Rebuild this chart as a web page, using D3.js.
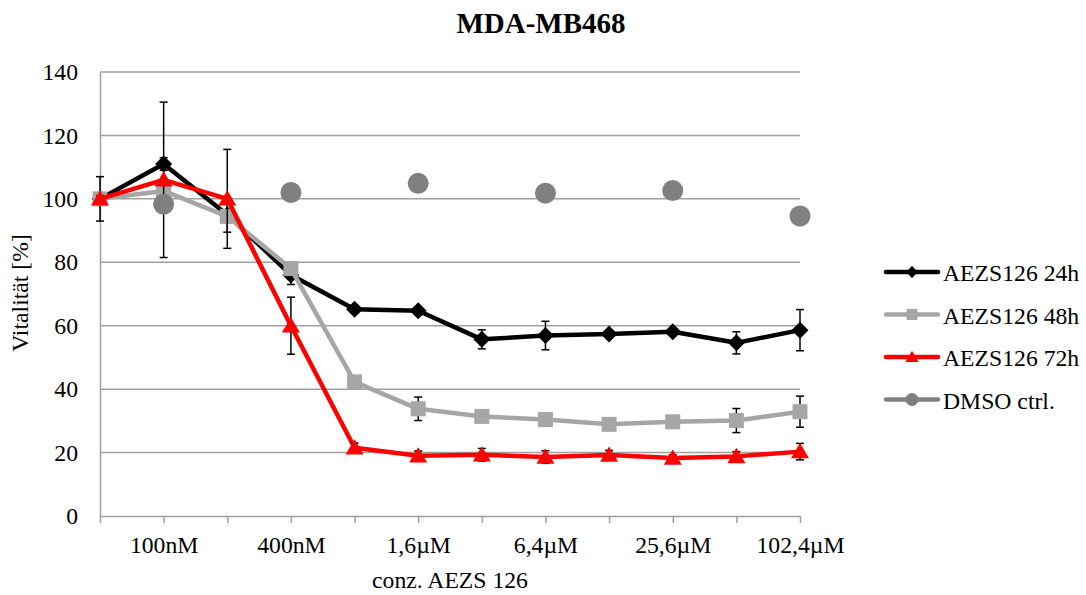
<!DOCTYPE html>
<html>
<head>
<meta charset="utf-8">
<script src="https://cdn.jsdelivr.net/npm/d3@7"></script>
<style>
  body { margin: 0; background: #fff; }
  svg text { font-family: "Liberation Serif", "Times New Roman", serif; fill: #000; }
</style>
</head>
<body>
<svg id="chart" width="1086" height="595"></svg>
<script>
// Concentrations (all 12 steps); every second one is labelled on the axis
const concentrations = ["50nM", "100nM", "200nM", "400nM", "800nM", "1,6µM",
  "3,2µM", "6,4µM", "12,8µM", "25,6µM", "51,2µM", "102,4µM"];
const shownLabels = ["100nM", "400nM", "1,6µM", "6,4µM", "25,6µM", "102,4µM"];
const yTicks = [0, 20, 40, 60, 80, 100, 120, 140];

// Vitality in % (mean) and standard deviation per concentration
const v24 = [100, 111, 95, 76, 65.2, 64.7, 55.7, 56.9, 57.4, 58.1, 54.6, 58.6];
const e24 = [7, 2, 5.5, 3, 1.2, 1.2, 3, 4.5, 1, 1, 3.5, 6.5];
const v48 = [100, 102.5, 94.5, 78, 42.3, 33.8, 31.4, 30.4, 28.9, 29.7, 30.1, 32.9];
const e48 = [1, 2, 2, 1.5, 1.5, 3.7, 1, 1, 1, 1, 3.8, 4.9];
const v72 = [100, 106, 100, 60, 21.5, 19, 19.3, 18.6, 19.2, 18.3, 18.8, 20.3];
const e72 = [1, 24.5, 15.6, 9, 1.5, 1.5, 2, 2, 1.5, 1, 1.5, 2.6];
const vDMSO = [null, 98.3, null, 102, null, 104.9, null, 101.8, null, 102.6, null, 94.6];

const seriesNames = ["AEZS126 24h", "AEZS126 48h", "AEZS126 72h", "DMSO ctrl."];
const seriesColors = ["#000000", "#a6a6a6", "#ff0000", "#808080"];

const svg = d3.select("#chart");
const x = d3.scalePoint().domain(concentrations).range([100, 800]);
const y = d3.scaleLinear().domain([0, 140]).range([516, 72]);
const gridColor = "#a0a0a0";
const FONT = "'Liberation Serif', 'Times New Roman', serif";
const FS = "23.7px";

// Title
svg.append("text").attr("x", 541).attr("y", 33).attr("text-anchor", "middle")
  .style("font-size", "29px").style("font-weight", "bold").text("MDA-MB468");

// Horizontal gridlines
svg.append("g").selectAll("line").data(yTicks.filter(d => d > 0)).join("line")
  .attr("x1", 100).attr("x2", 800)
  .attr("y1", d => y(d)).attr("y2", d => y(d))
  .attr("stroke", gridColor).attr("stroke-width", 1.5);

// Y axis
const yAxis = svg.append("g").attr("transform", "translate(100,0)")
  .call(d3.axisLeft(y).tickValues(yTicks).tickSize(0).tickPadding(22));
yAxis.attr("font-family", null).attr("font-size", null);
yAxis.select(".domain").attr("stroke", gridColor).attr("stroke-width", 1.5);
yAxis.selectAll("text").style("font-size", FS).style("font-family", FONT);

// X axis
const xAxis = svg.append("g").attr("transform", "translate(0,516)")
  .call(d3.axisBottom(x).tickSize(7).tickSizeOuter(0).tickPadding(13)
    .tickFormat(d => shownLabels.includes(d) ? d : ""));
xAxis.attr("font-family", null).attr("font-size", null);
xAxis.select(".domain").attr("stroke", gridColor).attr("stroke-width", 1.5);
xAxis.selectAll(".tick line").attr("stroke", gridColor).attr("stroke-width", 1.5);
xAxis.selectAll("text").style("font-size", FS).style("font-family", FONT);

// Axis titles
svg.append("text").attr("x", 450).attr("y", 588).attr("text-anchor", "middle")
  .style("font-size", FS).text("conz. AEZS 126");
svg.append("text").attr("transform", "translate(28,293) rotate(-90)")
  .attr("text-anchor", "middle").style("font-size", FS).text("Vitalität [%]");

// Marker shapes, scaled by r (half width)
const shapes = {
  diamond: r => `M0,${-r}L${r},0L0,${r}L${-r},0Z`,
  square: r => `M${-r},${-r}H${r}V${r}H${-r}Z`,
  triangle: r => `M0,${-r * 0.95}L${r},${r * 0.75}L${-r},${r * 0.75}Z`,
  circle: r => `M${r},0A${r},${r} 0 1,1 ${-r},0A${r},${r} 0 1,1 ${r},0Z`
};

const plot = svg.append("g");
const line = d3.line().defined(d => d.v != null).x(d => x(d.c)).y(d => y(d.v));

function drawSeries(vals, errs, color, shape, r, withLine) {
  const data = vals.map((v, i) => ({ c: concentrations[i], v, e: errs ? errs[i] : 0 }))
    .filter(d => d.v != null);
  const g = plot.append("g");
  if (withLine) {
    g.append("path").datum(data).attr("d", line).attr("fill", "none")
      .attr("stroke", color).attr("stroke-width", 4.5).attr("stroke-linejoin", "round");
  }
  if (errs) {
    const eb = g.append("g").selectAll("g").data(data).join("g")
      .attr("stroke", "#000").attr("stroke-width", 1.5);
    eb.append("line").attr("x1", d => x(d.c)).attr("x2", d => x(d.c))
      .attr("y1", d => y(d.v - d.e)).attr("y2", d => y(d.v + d.e));
    eb.append("line").attr("x1", d => x(d.c) - 4).attr("x2", d => x(d.c) + 4)
      .attr("y1", d => y(d.v + d.e)).attr("y2", d => y(d.v + d.e));
    eb.append("line").attr("x1", d => x(d.c) - 4).attr("x2", d => x(d.c) + 4)
      .attr("y1", d => y(d.v - d.e)).attr("y2", d => y(d.v - d.e));
  }
  g.append("g").selectAll("path").data(data).join("path")
    .attr("d", shapes[shape](r))
    .attr("transform", d => `translate(${x(d.c)},${y(d.v)})`)
    .attr("fill", color);
}

drawSeries(v24, e24, seriesColors[0], "diamond", 8.5, true);
drawSeries(v48, e48, seriesColors[1], "square", 7.5, true);
drawSeries(v72, e72, seriesColors[2], "triangle", 9, true);
drawSeries(vDMSO, null, seriesColors[3], "circle", 10.5, false);

// Legend
const legendShapes = [["diamond", 6], ["square", 5.5], ["triangle", 6.5], ["circle", 6.5]];
const lg = svg.append("g").selectAll("g").data(seriesNames).join("g")
  .attr("transform", (d, i) => `translate(886,${272 + i * 42.5})`);
lg.append("line").attr("x1", 0).attr("x2", 52).attr("stroke", (d, i) => seriesColors[i])
  .attr("stroke-width", 4.5).attr("stroke-linecap", "round");
lg.append("path").attr("d", (d, i) => shapes[legendShapes[i][0]](legendShapes[i][1]))
  .attr("transform", "translate(26,0)").attr("fill", (d, i) => seriesColors[i]);
lg.append("text").attr("x", 57).attr("y", 9).style("font-size", FS).text(d => d);
</script>
</body>
</html>
